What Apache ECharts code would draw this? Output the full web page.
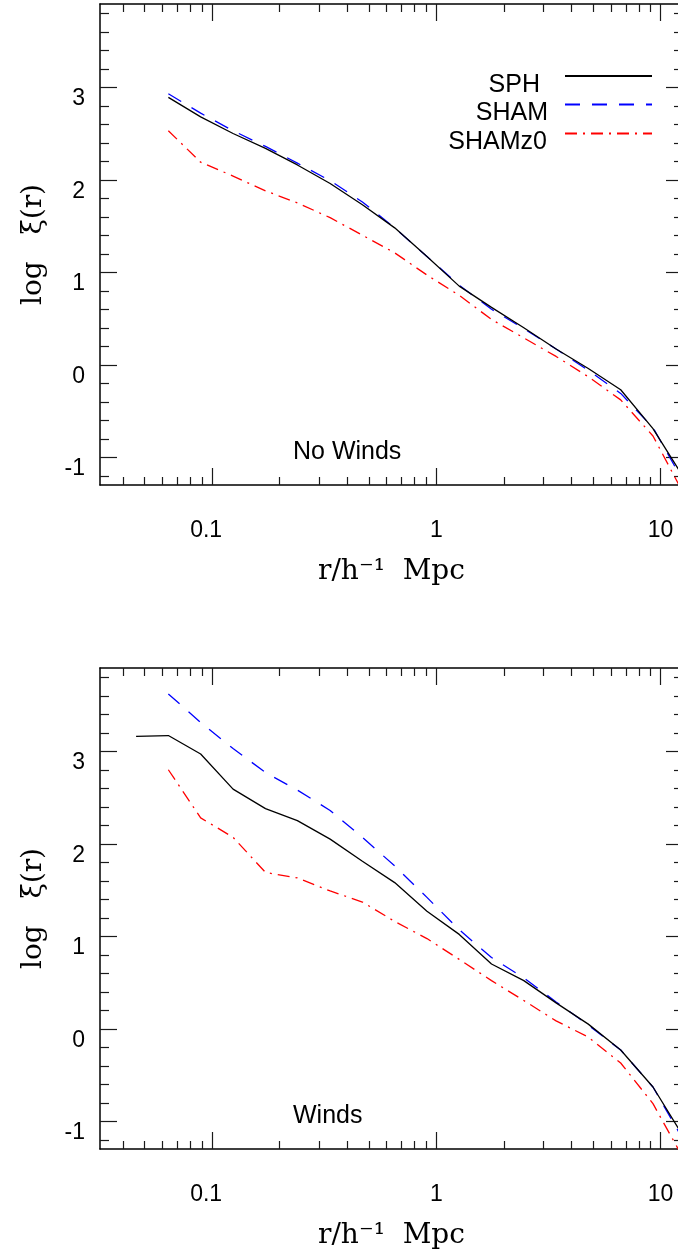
<!DOCTYPE html>
<html>
<head>
<meta charset="utf-8">
<script src="https://cdn.jsdelivr.net/npm/echarts@6/dist/echarts.min.js"></script>
<style>
  html, body { margin: 0; padding: 0; background: #ffffff; }
  #chart { width: 678px; height: 1257px; }
</style>
</head>
<body>
<div id="chart"></div>
<script>
// Separation bins, r in h^-1 Mpc
const radius = [0.0458, 0.0638, 0.0889, 0.124, 0.173, 0.240, 0.336, 0.468, 0.652, 0.908,
                1.265, 1.762, 2.455, 3.42, 4.76, 6.64, 9.25, 12.9];

// log xi(r) without winds
const noWindsSPH    = [null, 2.89, 2.68, 2.50, 2.34, 2.16, 1.96, 1.73, 1.48, 1.17,
                       0.85, 0.62, 0.40, 0.17, -0.04, -0.27, -0.69, -1.25];
const noWindsSHAM   = [null, 2.93, 2.72, 2.53, 2.36, 2.18, 1.99, 1.76, 1.48, 1.17,
                       0.86, 0.60, 0.39, 0.17, -0.06, -0.31, -0.68, -1.30];
const noWindsSHAMz0 = [null, 2.53, 2.19, 2.04, 1.88, 1.75, 1.59, 1.40, 1.21, 0.97,
                       0.75, 0.49, 0.29, 0.09, -0.13, -0.38, -0.77, -1.43];

// log xi(r) with winds
const windsSPH    = [3.16, 3.17, 2.97, 2.59, 2.38, 2.25, 2.05, 1.81, 1.58, 1.27,
                     1.02, 0.70, 0.52, 0.28, 0.05, -0.23, -0.63, -1.20];
const windsSHAM   = [null, 3.62, 3.31, 3.03, 2.77, 2.58, 2.36, 2.07, 1.76, 1.42,
                     1.07, 0.77, 0.55, 0.29, 0.04, -0.23, -0.63, -1.24];
const windsSHAMz0 = [null, 2.80, 2.28, 2.07, 1.69, 1.63, 1.49, 1.37, 1.16, 0.975,
                     0.75, 0.52, 0.305, 0.085, -0.09, -0.37, -0.81, -1.44];

const seriesNames = ['SPH', 'SHAM', 'SHAMz0'];
const panelLabels = ['No Winds', 'Winds'];

// Tick positions
const xMajorTicks = [0.1, 1, 10];
const xMinorTicks = [0.04, 0.05, 0.06, 0.07, 0.08, 0.09, 0.2, 0.3, 0.4, 0.5, 0.6, 0.7, 0.8, 0.9,
                     2, 3, 4, 5, 6, 7, 8, 9];
const yMajorTicks = [-1, 0, 1, 2, 3];
const yMinorTicks = [-1.2, -0.8, -0.6, -0.4, -0.2, 0.2, 0.4, 0.6, 0.8, 1.2, 1.4, 1.6, 1.8,
                     2.2, 2.4, 2.6, 2.8, 3.2, 3.4, 3.6, 3.8];

// Axis ranges
const X_MIN = 0.031623, X_MAX = 12.59;
const Y_MIN = -1.3, Y_MAX = 3.9;
const LX_MIN = Math.log10(X_MIN), LX_MAX = Math.log10(X_MAX);

const panels = [
  { label: panelLabels[0], values: [noWindsSPH, noWindsSHAM, noWindsSHAMz0], top: 4 },
  { label: panelLabels[1], values: [windsSPH, windsSHAM, windsSHAMz0], top: 668 }
];

const lineLooks = {
  SPH:    { color: '#000000', type: 'solid' },
  SHAM:   { color: '#0000ff', type: [15, 12] },
  SHAMz0: { color: '#ff0000', type: [12, 6, 2, 6] }
};

const SANS = 'Liberation Sans';
const SERIF = 'DejaVu Serif';
const INK = '#000000';
const PLOT_LEFT = 100, PLOT_WIDTH = 583, PLOT_HEIGHT = 481;

const axisLineOn = { show: true, onZero: false, lineStyle: { color: INK, width: 1.5 } };
const axisLineOff = { show: false, onZero: false };
const tickStyle = { color: '#1a1a1a', width: 1.2 };

function xTickLabel(v) {
  const s = String(parseFloat(Math.pow(10, v).toPrecision(3)));
  return s.indexOf('.') >= 0 ? '{dec|' + s + '}' : s;
}

function buildXAxes(g) {
  const base = {
    gridIndex: g, type: 'value', min: LX_MIN, max: LX_MAX,
    splitLine: { show: false }, axisLabel: { show: false }, axisPointer: { show: false }
  };
  const major = xMajorTicks.map(Math.log10);
  const minor = xMinorTicks.map(Math.log10);
  return [
    // data axis (log scale), carries the series
    { gridIndex: g, type: 'log', logBase: 10, min: X_MIN, max: X_MAX, show: false },
    Object.assign({}, base, {
      position: 'bottom', axisLine: axisLineOn,
      axisTick: { show: true, inside: true, length: 17, customValues: major, lineStyle: tickStyle },
      axisLabel: {
        show: true, customValues: major, formatter: xTickLabel, margin: 34,
        color: INK, fontFamily: SANS, fontSize: 23,
        rich: { dec: { fontFamily: SANS, fontSize: 23, color: INK, padding: [0, 12, 0, 0] } }
      },
      name: 'r/h\u207B\u00B9  Mpc', nameLocation: 'middle', nameGap: 73,
      nameTextStyle: { fontFamily: SERIF, fontSize: 28, color: INK }
    }),
    Object.assign({}, base, {
      position: 'bottom', axisLine: axisLineOff,
      axisTick: { show: true, inside: true, length: 8, customValues: minor, lineStyle: tickStyle }
    }),
    Object.assign({}, base, {
      position: 'top', axisLine: axisLineOn,
      axisTick: { show: true, inside: true, length: 17, customValues: major, lineStyle: tickStyle }
    }),
    Object.assign({}, base, {
      position: 'top', axisLine: axisLineOff,
      axisTick: { show: true, inside: true, length: 8, customValues: minor, lineStyle: tickStyle }
    })
  ];
}

function buildYAxes(g) {
  const base = {
    gridIndex: g, type: 'value', min: Y_MIN, max: Y_MAX,
    splitLine: { show: false }, axisLabel: { show: false }, axisPointer: { show: false }
  };
  return [
    Object.assign({}, base, {
      position: 'left', axisLine: axisLineOn,
      axisTick: { show: true, inside: true, length: 17, customValues: yMajorTicks, lineStyle: tickStyle },
      axisLabel: {
        show: true, customValues: yMajorTicks, margin: 15, verticalAlign: 'top',
        formatter: v => String(Math.round(v)),
        color: INK, fontFamily: SANS, fontSize: 23
      },
      name: 'log   \u03BE(r)', nameLocation: 'middle', nameGap: 52, nameRotate: 90,
      nameTextStyle: { fontFamily: SERIF, fontSize: 28, color: INK }
    }),
    Object.assign({}, base, {
      position: 'left', axisLine: axisLineOff,
      axisTick: { show: true, inside: true, length: 9, customValues: yMinorTicks, lineStyle: tickStyle }
    }),
    Object.assign({}, base, {
      position: 'right', axisLine: axisLineOn,
      axisTick: { show: true, inside: true, length: 17, customValues: yMajorTicks, lineStyle: tickStyle }
    }),
    Object.assign({}, base, {
      position: 'right', axisLine: axisLineOff,
      axisTick: { show: true, inside: true, length: 9, customValues: yMinorTicks, lineStyle: tickStyle }
    })
  ];
}

const grids = panels.map(p => ({
  left: PLOT_LEFT, top: p.top, width: PLOT_WIDTH, height: PLOT_HEIGHT,
  containLabel: false, outerBoundsMode: 'none'
}));

let xAxes = [], yAxes = [], series = [];
panels.forEach((p, g) => {
  xAxes = xAxes.concat(buildXAxes(g));
  yAxes = yAxes.concat(buildYAxes(g));
  seriesNames.forEach((name, i) => {
    const pts = [];
    radius.forEach((r, k) => { if (p.values[i][k] !== null) pts.push([r, p.values[i][k]]); });
    series.push({
      name: name, type: 'line', xAxisIndex: g * 5, yAxisIndex: g * 4,
      data: pts, symbol: 'none', showSymbol: false, smooth: false, clip: true,
      lineStyle: { color: lineLooks[name].color, width: 1.3, type: lineLooks[name].type },
      itemStyle: { color: lineLooks[name].color },
      emphasis: { disabled: true }, z: 3 - i
    });
  });
});

// Legend rows: line sample on the right, label right-aligned to its left,
// label sitting a little lower than its sample line
const legendRows = [
  { name: 'SPH',    top: 70.5,  padRight: 20 },
  { name: 'SHAM',   top: 98.8,  padRight: 12 },
  { name: 'SHAMz0', top: 127.8, padRight: 13 }
];
const legends = legendRows.map(row => ({
  data: [row.name], orient: 'vertical', align: 'right',
  right: 25, top: row.top, padding: 0,
  itemWidth: 87, itemHeight: 14, selectedMode: false,
  itemStyle: { opacity: 0 },
  formatter: n => '{t|' + n + '}',
  textStyle: {
    fontFamily: SANS, fontSize: 25, color: INK, padding: [18, row.padRight, 0, 0],
    rich: { t: { fontFamily: SANS, fontSize: 25, color: INK, lineHeight: 25 } }
  }
}));

const option = {
  animation: false,
  backgroundColor: '#ffffff',
  grid: grids,
  xAxis: xAxes,
  yAxis: yAxes,
  legend: legends,
  series: series,
  graphic: panels.map((p, g) => ({
    type: 'text', left: 293, top: p.top + 436,
    style: { text: p.label, fontFamily: SANS, fontSize: 25, fill: INK }
  }))
};

const chart = echarts.init(document.getElementById('chart'), null, { renderer: 'canvas', width: 678, height: 1257 });
chart.setOption(option);
</script>
</body>
</html>
